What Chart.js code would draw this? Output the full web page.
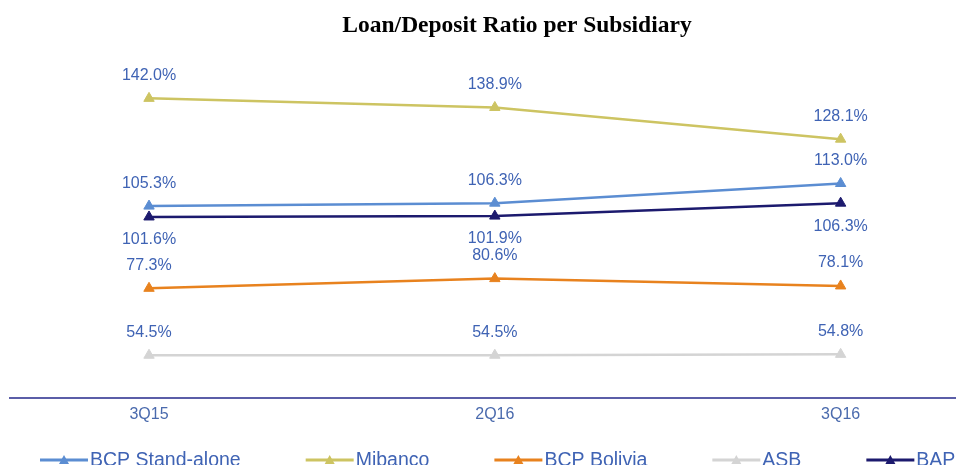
<!DOCTYPE html>
<html>
<head>
<meta charset="utf-8">
<title>Loan/Deposit Ratio per Subsidiary</title>
<script src="https://cdn.jsdelivr.net/npm/chart.js@4"></script>
<style>
    html, body { margin: 0; padding: 0; background: #fff; overflow: hidden; }
</style>
</head>
<body>
<canvas id="ratio-canvas" width="1024" height="465"></canvas>
<script>
// Values (in %)
var quarters = ['3Q15', '2Q16', '3Q16'];
var bcpStandAlone = [105.3, 106.3, 113.0];
var mibanco = [142.0, 138.9, 128.1];
var bcpBolivia = [77.3, 80.6, 78.1];
var asb = [54.5, 54.5, 54.8];
var bap = [101.6, 101.9, 106.3];

var labelFont = "'Liberation Sans', Arial, sans-serif";
var labelColor = '#3f63b4';

function toPoints(values) {
    return values.map(function(v, i) { return { x: i, y: v }; });
}

function makeSeries(name, values, color, labelPos) {
    return {
        label: name,
        data: toPoints(values),
        borderColor: color,
        backgroundColor: color,
        borderWidth: 2.5,
        pointStyle: 'triangle',
        pointRadius: 6,
        pointHoverRadius: 6,
        pointBorderWidth: 1,
        fill: false,
        tension: 0,
        labelPos: labelPos
    };
}

// value labels above / below each point
var valueLabels = {
    id: 'valueLabels',
    afterDatasetsDraw: function(chart) {
        var ctx = chart.ctx;
        ctx.save();
        ctx.font = '16px ' + labelFont;
        ctx.fillStyle = labelColor;
        ctx.textAlign = 'center';
        ctx.textBaseline = 'middle';
        chart.data.datasets.forEach(function(ds, i) {
            var meta = chart.getDatasetMeta(i);
            var dy = ds.labelPos === 'below' ? 23 : -23;
            meta.data.forEach(function(pt, j) {
                ctx.fillText(ds.data[j].y.toFixed(1) + '%', pt.x, pt.y + dy);
            });
        });
        ctx.restore();
    }
};

// legend drawn as line + triangle, like the slide
var lineLegend = {
    id: 'lineLegend',
    afterDraw: function(chart) {
        var ctx = chart.ctx;
        var x = 40, y = 460;
        ctx.save();
        ctx.font = '19.5px ' + labelFont;
        ctx.textBaseline = 'middle';
        ctx.textAlign = 'left';
        chart.data.datasets.forEach(function(ds) {
            ctx.strokeStyle = ds.borderColor;
            ctx.fillStyle = ds.borderColor;
            ctx.lineWidth = 3;
            ctx.beginPath();
            ctx.moveTo(x, y);
            ctx.lineTo(x + 48, y);
            ctx.stroke();
            ctx.beginPath();
            ctx.moveTo(x + 24, y - 5);
            ctx.lineTo(x + 29, y + 4);
            ctx.lineTo(x + 19, y + 4);
            ctx.closePath();
            ctx.fill();
            ctx.fillStyle = labelColor;
            ctx.fillText(ds.label, x + 50, y + 1);
            x += 50 + ctx.measureText(ds.label).width + 65;
        });
        ctx.restore();
    }
};

var chart = new Chart(document.getElementById('ratio-canvas').getContext('2d'), {
    type: 'line',
    data: {
        datasets: [
            makeSeries('BCP Stand-alone', bcpStandAlone, '#5b8dd2', 'above'),
            makeSeries('Mibanco', mibanco, '#cdc462', 'above'),
            makeSeries('BCP Bolivia', bcpBolivia, '#e8821e', 'above'),
            makeSeries('ASB', asb, '#d4d4d4', 'above'),
            makeSeries('BAP', bap, '#1c1a6e', 'below')
        ]
    },
    options: {
        responsive: false,
        animation: false,
        layout: { padding: { left: 10, right: 0, top: 0, bottom: 34 } },
        plugins: {
            legend: { display: false },
            tooltip: { enabled: false },
            title: {
                display: true,
                text: 'Loan/Deposit Ratio per Subsidiary',
                color: '#000',
                font: { family: "'Liberation Serif', 'Times New Roman', serif", size: 23.5, weight: 'bold' },
                padding: { top: 12, bottom: 20 }
            }
        },
        scales: {
            x: {
                type: 'linear',
                min: -0.402,
                max: 2.51,
                afterBuildTicks: function(scale) {
                    scale.ticks = quarters.map(function(q, i) { return { value: i }; });
                },
                ticks: {
                    color: '#4a6aad',
                    font: { family: labelFont, size: 16 },
                    padding: 7,
                    callback: function(value) { return quarters[value]; }
                },
                grid: { display: false, drawTicks: false },
                border: { display: true, color: '#5b5ea8', width: 2 }
            },
            y: {
                display: false,
                min: 40,
                max: 155
            }
        }
    },
    plugins: [valueLabels, lineLegend]
});
</script>
</body>
</html>
